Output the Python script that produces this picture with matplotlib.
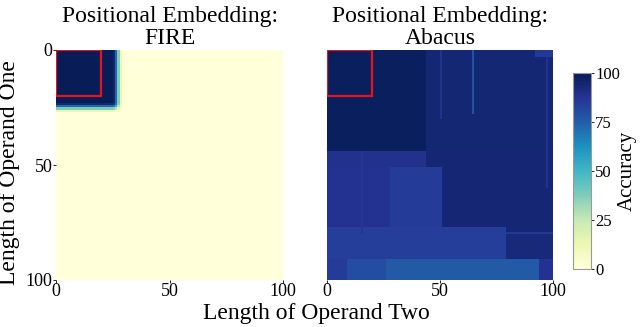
import numpy as np
import matplotlib
matplotlib.use("Agg")
import matplotlib.pyplot as plt
from matplotlib.patches import Rectangle

plt.rcParams['font.family'] = ['Liberation Serif', 'DejaVu Serif']

N = 100
titles = ["Positional Embedding:\nFIRE", "Positional Embedding:\nAbacus"]
ticks = [0, 50, 100]
cbar_ticks = [0, 25, 50, 75, 100]

# FIRE: accuracy profile along each operand length (index -> accuracy %)
fire_row_profile = [100] * 23 + [95, 72, 38, 12] + [0] * 73
fire_col_profile = [100] * 25 + [95, 72, 38, 12] + [0] * 71

# Abacus: base accuracy and rectangular regions (row0, row1, col0, col1, accuracy)
abacus_base = 93
abacus_blocks = [
    (0, 44, 0, 44, 98.5),
    (0, 44, 44, 100, 94.5),
    (0, 3, 92, 100, 86),
    (44, 51, 0, 44, 89),
    (44, 79, 44, 100, 94),
    (51, 79, 0, 28, 88),
    (51, 79, 28, 51, 85),
    (77, 91, 0, 79, 84),
    (79, 91, 79, 100, 93),
    (79, 80, 79, 100, 86),
    (91, 100, 0, 9, 85),
    (91, 100, 9, 26, 80),
    (91, 100, 26, 94, 76),
    (91, 100, 94, 100, 88),
]
# Abacus: thin vertical streaks (col, row0, row1, accuracy)
abacus_streaks = [
    (50, 0, 30, 88),
    (64, 0, 28, 78),
    (97, 3, 60, 88),
    (15, 44, 80, 87),
]

fire = np.outer(fire_row_profile, fire_col_profile) / 100.0

abacus = np.full((N, N), float(abacus_base))
for r0, r1, c0, c1, v in abacus_blocks:
    abacus[r0:r1, c0:c1] = v
for c, r0, r1, v in abacus_streaks:
    abacus[r0:r1, c] = v

fig = plt.figure(figsize=(6.4, 3.27), dpi=100)
W, H = 640, 327
ax1 = fig.add_axes([56 / W, (H - 280) / H, 227 / W, 230 / H])
ax2 = fig.add_axes([327 / W, (H - 280) / H, 226 / W, 230 / H])
cax = fig.add_axes([573 / W, (H - 269) / H, 18 / W, 196 / H])

for ax, data, title in [(ax1, fire, titles[0]), (ax2, abacus, titles[1])]:
    im = ax.imshow(data, cmap="YlGnBu", vmin=0, vmax=100, extent=[0, N, N, 0],
                   aspect="auto", interpolation="nearest")
    ax.add_patch(Rectangle((0, 0), 20, 20, fill=False, edgecolor="#e8141c", linewidth=1.6))
    ax.set_title(title, fontsize=17, linespacing=1.12, pad=4)
    ax.set_xticks(ticks)
    ax.set_xticklabels([str(t) for t in ticks], fontsize=13)
    ax.set_xlim(0, N)
    ax.set_ylim(N, 0)
    for s in ax.spines.values():
        s.set_visible(False)
    ax.tick_params(length=2, width=0.6, pad=0.5)

ax1.set_yticks(ticks)
ax1.set_yticklabels([str(t) for t in ticks], fontsize=13)
ax2.set_yticks([])

cb = fig.colorbar(im, cax=cax, ticks=cbar_ticks)
cb.ax.tick_params(labelsize=12, length=2, width=0.6, pad=1)
cb.outline.set_edgecolor("#999999")
cb.outline.set_linewidth(0.8)

fig.text(627 / W, 1 - 171 / H, "Accuracy", ha="center", va="center",
         rotation=90, fontsize=15)
fig.text(316 / W, 1 - 313 / H, "Length of Operand Two", ha="center", va="center", fontsize=17)
fig.text(10 / W, 1 - 173 / H, "Length of Operand One", ha="center", va="center",
         rotation=90, fontsize=17)

fig.savefig("out.png", dpi=100)
